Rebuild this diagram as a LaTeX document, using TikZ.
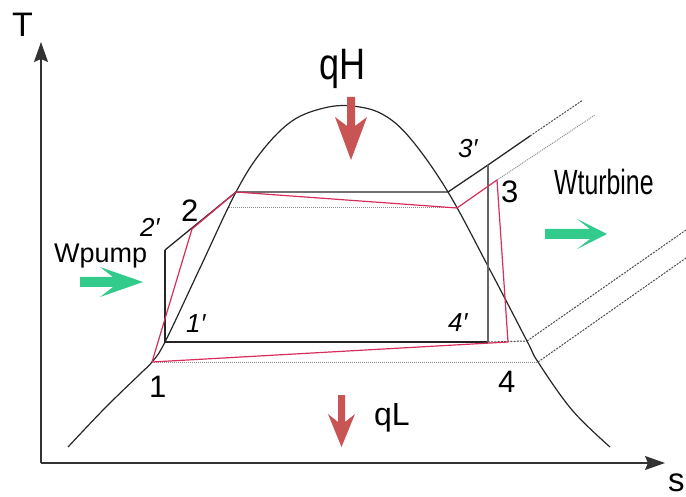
\documentclass[tikz,border=0pt]{standalone}
\usepackage{fontspec}
\setmainfont{Liberation Sans}
\usetikzlibrary{arrows.meta}
\definecolor{redl}{RGB}{214,46,90}
\definecolor{arrowred}{RGB}{200,84,84}
\definecolor{arrowgreen}{RGB}{50,203,140}
\begin{document}
\begin{tikzpicture}[x=1pt,y=-1pt,
  lbl/.style={inner sep=0pt, anchor=base west, font=\fontsize{31}{31}\selectfont},
  plbl/.style={inner sep=0pt, anchor=base west, font=\fontsize{26}{26}\selectfont\itshape},
  txt/.style={inner sep=0pt, anchor=base west},
  axisline/.style={line width=1.3pt, black!80, -{Stealth[length=20pt,width=14pt,inset=3pt]}},
  blk/.style={line width=1.3pt, black!85},
  graylk/.style={line width=1.3pt, black!60},
  dome/.style={line width=1.2pt, black!85},
  redline/.style={line width=1.2pt, redl, line join=round},
  dotl/.style={line width=1pt, black!45, dash pattern=on 1pt off 1pt},
  dashl/.style={line width=1pt, black!70, dash pattern=on 2pt off 1.2pt},
  redarrow/.style={fill=arrowred, draw=none},
  greenarrow/.style={fill=arrowgreen, draw=none}]
\useasboundingbox (0,0) rectangle (686,497);

% axes
\coordinate (o) at (41,463);
\coordinate (ty) at (41,42);
\coordinate (sx) at (665,463);
\draw[axisline] (o) -- (ty);
\draw[axisline] (o) -- (sx);
\node[txt, font=\fontsize{34}{34}\selectfont] (T) at (12,37) {T};
\node[txt, font=\fontsize{33}{33}\selectfont] (s) at (668,491) {s};

% key points
\coordinate (p1) at (152,362);
\coordinate (p1p) at (165,342);
\coordinate (p2) at (192,229);
\coordinate (p2p) at (165,250);
\coordinate (d2) at (236,192);
\coordinate (dr) at (448,192);
\coordinate (r2) at (457,208);
\coordinate (dl2) at (229,208);
\coordinate (p3) at (497,180);
\coordinate (p3p) at (488,165);
\coordinate (p4p) at (488,342);
\coordinate (p4r) at (508,342);
\coordinate (d4p) at (527,341);
\coordinate (p4) at (538,362);
\coordinate (e1) at (583,100);
\coordinate (e2) at (595,115);
\coordinate (e3) at (686,230);
\coordinate (e4) at (686,258);
\coordinate (m1) at (530,136);

% dome
\draw[dome] plot[smooth, tension=0.6] coordinates {(68,447) (105,408) (140,374) (152,362) (165,342) (200,268) (236,192) (262,151) (292,121) (324,108) (352,106) (382,114) (410,138) (448,192) (490,270) (527,341) (538,362) (572,410) (610,447)};

% dotted / dashed lines
\draw[dotl] (dl2) -- (r2);
\draw[dotl] (p1) -- (p4);
\draw[dashl] (p4p) -- (d4p);
\draw[dashl] (d4p) -- (e3);
\draw[dashl] (p4) -- (e4);
\draw[dotl] (p3) -- (e2);
\draw[dashl] (m1) -- (e1);

% black ideal cycle
\draw[blk] (p2p) -- (d2) -- (dr) -- (p3p) -- (m1);
\draw[blk] (p2p) -- (p1p) -- (p4p);
\draw[graylk] (p3p) -- (p4p);

% red real cycle
\draw[redline] (p2) -- (d2) -- (r2) -- (p3) -- (p4r) -- (p1) -- cycle;

% arrows
\fill[redarrow] (347,97) -- (355,97) -- (355,126) -- (367,117) -- (351,160) -- (335,117) -- (347,126) -- cycle;
\fill[redarrow] (338,395) -- (345,395) -- (345,422) -- (355,414) -- (341.5,447) -- (328,414) -- (338,422) -- cycle;
\fill[greenarrow] (80,277) -- (113,277) -- (100,267) -- (143,282) -- (100,297) -- (113,287) -- (80,287) -- cycle;
\fill[greenarrow] (545,229) -- (590,229) -- (577,219) -- (607,234) -- (577,249) -- (590,239) -- (545,239) -- cycle;

% texts
\node[txt, font=\fontsize{44}{44}\selectfont] (qH) at (319,80) {\scalebox{0.82}[1]{qH}};
\node[txt, font=\fontsize{32}{32}\selectfont] (qL) at (374,425) {qL};
\node[txt, font=\fontsize{27}{27}\selectfont] (wp) at (54,263) {Wpump};
\node[txt, font=\fontsize{35}{35}\selectfont] (wt) at (554,195) {\scalebox{0.71}[1]{Wturbine}};

% point labels
\node[lbl] (l2) at (181,222) {2};
\node[plbl] (l2p) at (140,237) {2′};
\node[plbl] (l1p) at (186,333) {1′};
\node[lbl] (l1) at (149,397) {1};
\node[plbl] (l4p) at (448,332) {4′};
\node[lbl] (l4) at (498,392) {4};
\node[lbl] (l3) at (501,203) {3};
\node[plbl] (l3p) at (458,158) {3′};
\end{tikzpicture}
\end{document}
